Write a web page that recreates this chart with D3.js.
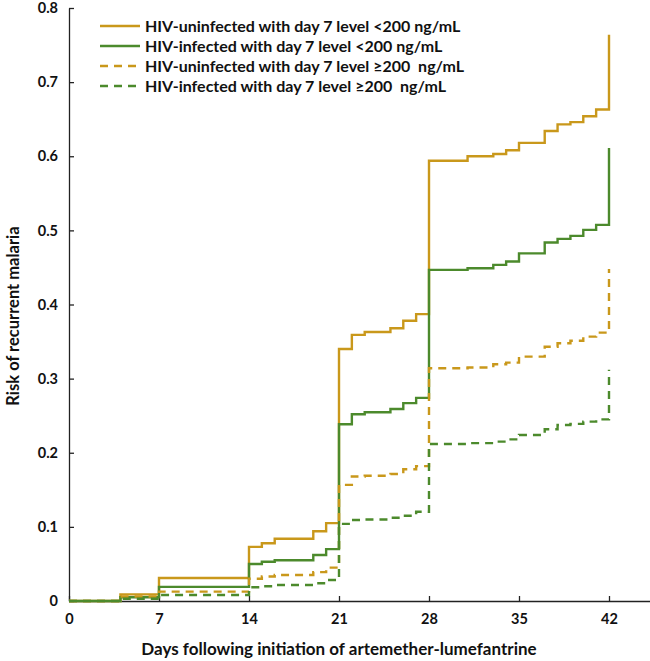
<!DOCTYPE html>
<html><head><meta charset="utf-8">
<script src="https://cdn.jsdelivr.net/npm/d3@7"></script>
<style>body{margin:0;background:#fff}svg{display:block}text{font-family:Lato,"Open Sans",sans-serif;font-weight:bold;fill:#111}</style>
</head><body><svg id="c" width="650" height="661"></svg>
<script>
// Days at which the step functions change
const days = [0,4,7,14,15,16,19,20,21,22,23,25,26,27,28,31,33,34,35,37,38,39,40,41,42];
// Cumulative risk for each series, aligned with `days`
const uninfLow  = [0,0.009,0.031,0.073,0.078,0.084,0.094,0.105,0.340,0.359,0.363,0.368,0.378,0.387,0.594,0.600,0.603,0.608,0.618,0.634,0.643,0.646,0.654,0.663,0.764];
const infLow    = [0,0.005,0.019,0.050,0.053,0.055,0.062,0.070,0.2385,0.252,0.2547,0.259,0.267,0.274,0.4467,0.449,0.4534,0.458,0.469,0.4836,0.4885,0.4926,0.5007,0.5074,0.611];
const uninfHigh = [0,0.006,0.0126,0.030,0.033,0.035,0.039,0.045,0.1566,0.168,0.169,0.1714,0.1777,0.182,0.314,0.315,0.3194,0.3216,0.3297,0.343,0.3478,0.351,0.3567,0.362,0.448];
const infHigh   = [0,0.003,0.008,0.0185,0.020,0.0216,0.024,0.0283,0.104,0.1093,0.110,0.1124,0.115,0.1205,0.2119,0.213,0.215,0.218,0.224,0.2317,0.2375,0.239,0.242,0.245,0.312];
const seriesNames = ["HIV-uninfected with day 7 level <200 ng/mL","HIV-infected with day 7 level <200 ng/mL","HIV-uninfected with day 7 level \u2265200  ng/mL","HIV-infected with day 7 level \u2265200  ng/mL"];
const xTicks = [0,7,14,21,28,35,42];
const yTicks = [0,0.1,0.2,0.3,0.4,0.5,0.6,0.7,0.8];

const gold = "#C9981B", green = "#4C8A2C";
const series = [
  {name:seriesNames[0], values:uninfLow, color:gold, dash:null},
  {name:seriesNames[1], values:infLow, color:green, dash:null},
  {name:seriesNames[2], values:uninfHigh, color:gold, dash:"8,6"},
  {name:seriesNames[3], values:infHigh, color:green, dash:"8,6"}
];

const svg = d3.select("#c");
const x = d3.scaleLinear().domain([0,42]).range([69,609]);
const y = d3.scaleLinear().domain([0,0.8]).range([601,8]);

// axes
const xAxis = svg.append("g").attr("transform","translate(0,601)")
  .call(d3.axisBottom(x).tickValues(xTicks).tickSizeInner(-5).tickSizeOuter(0).tickPadding(13));
xAxis.select(".domain").attr("d","M69,0.5H650");
const yAxis = svg.append("g").attr("transform","translate(69,0)")
  .call(d3.axisLeft(y).tickValues(yTicks).tickSizeInner(-5).tickSizeOuter(0).tickPadding(11).tickFormat(d=>d===0?"0":d3.format(".1f")(d)));
[xAxis,yAxis].forEach(a=>{a.selectAll("path,line").attr("stroke","#222").attr("stroke-width",1.3);
  a.selectAll("text").style("font-size","14.5px").style("font-family","Lato,sans-serif").style("font-weight","bold").attr("fill","#111");});
xAxis.selectAll("text").attr("dy","0.71em");

const line = d3.line().curve(d3.curveStepAfter).x((d,i)=>x(days[i])).y(d=>y(d));
series.forEach(s=>{
  svg.append("path").attr("d",line(s.values)).attr("fill","none").attr("stroke",s.color)
    .attr("stroke-width",2.4).attr("stroke-dasharray",s.dash);
});

// legend
const lg = svg.append("g");
series.forEach((s,i)=>{
  const yy = 26 + i*20;
  lg.append("line").attr("x1",100).attr("x2",140).attr("y1",yy).attr("y2",yy)
    .attr("stroke",s.color).attr("stroke-width",2.4).attr("stroke-dasharray",s.dash ? "8,6" : null);
  lg.append("text").attr("x",145).attr("y",yy).attr("dy","0.35em").style("font-size","16px").style("white-space","pre").text(s.name);
});

svg.append("text").attr("x",339).attr("y",649).attr("text-anchor","middle").attr("dy","0.35em").style("font-size","17px")
  .text("Days following initiation of artemether-lumefantrine");
svg.append("text").attr("transform","translate(13,316) rotate(-90)").attr("text-anchor","middle").attr("dy","0.35em").style("font-size","16.5px")
  .text("Risk of recurrent malaria");
</script></body></html>
